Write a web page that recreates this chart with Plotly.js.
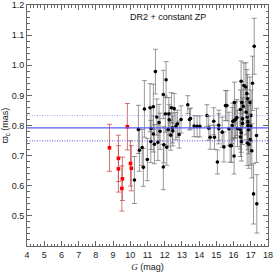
<!DOCTYPE html>
<html><head><meta charset="utf-8">
<script src="https://cdn.plot.ly/plotly-3.0.1.min.js"></script>
<style>html,body{margin:0;padding:0;background:#fff}#c{width:274px;height:274px}</style>
</head><body><div id="c"></div>
<script>
// Red (bright) stars
const redG   = [8.79, 9.31, 9.31, 9.54, 9.51, 9.83, 10.01, 10.06];
const redPlx = [0.726, 0.691, 0.656, 0.623, 0.591, 0.796, 0.674, 0.658];
const redErr = [0.078, 0.077, 0.077, 0.072, 0.075, 0.077, 0.075, 0.075];

// Black stars
const blkG = [10.24,10.47,10.53,10.69,10.76,10.82,10.99,11.15,11.21,11.19,11.34,11.34,11.40,11.46,11.54,11.60,11.67,11.73,11.92,11.92,11.95,12.04,12.08,12.12,12.20,12.24,12.26,12.35,12.39,12.45,12.47,12.55,12.65,12.74,12.84,12.95,13.34,13.44,13.50,13.71,13.88,14.04,14.45,14.56,14.64,14.85,14.89,15.06,15.14,15.14,15.34,15.44,15.53,15.61,15.73,15.80,15.88,15.92,15.96,16.03,16.05,16.05,16.11,16.19,16.23,16.38,16.40,16.40,16.44,16.44,16.46,16.48,16.52,16.52,16.56,16.60,16.71,16.73,16.77,16.79,16.79,16.81,16.83,16.83,16.87,16.89,16.95,17.00,17.02,16.97,17.06,17.10,17.16,17.20,17.33,17.35];
const blkPlx = [0.619,0.787,0.718,0.727,0.661,0.855,0.687,0.859,0.790,0.747,0.862,0.772,0.738,0.979,0.828,0.744,0.810,0.781,0.903,0.662,0.736,0.838,0.952,0.728,0.787,0.838,0.819,0.768,0.859,0.792,0.782,0.856,0.798,0.806,0.770,0.820,0.869,0.820,0.823,0.798,0.797,0.797,0.833,0.791,0.761,0.814,0.761,0.679,0.801,0.789,0.778,0.729,0.866,0.866,0.789,0.733,0.733,0.800,0.814,0.699,0.817,0.876,0.820,0.826,0.790,0.787,0.762,0.853,0.776,0.947,0.747,0.876,0.822,0.807,0.864,0.933,0.928,0.844,0.906,0.828,0.742,0.889,0.812,0.800,0.786,0.738,0.876,0.798,0.833,0.753,0.716,0.940,0.573,1.063,0.767,0.540];
const blkErr = [0.078,0.080,0.070,0.060,0.063,0.094,0.070,0.080,0.070,0.070,0.075,0.060,0.065,0.074,0.060,0.060,0.060,0.060,0.080,0.075,0.060,0.060,0.060,0.060,0.055,0.055,0.050,0.050,0.050,0.050,0.050,0.050,0.045,0.045,0.045,0.045,0.030,0.035,0.035,0.035,0.035,0.035,0.036,0.040,0.040,0.045,0.040,0.040,0.050,0.050,0.050,0.050,0.050,0.050,0.055,0.055,0.055,0.060,0.060,0.060,0.060,0.068,0.060,0.060,0.060,0.065,0.065,0.065,0.065,0.067,0.065,0.070,0.070,0.070,0.070,0.075,0.080,0.075,0.080,0.075,0.075,0.080,0.080,0.080,0.080,0.080,0.085,0.085,0.085,0.085,0.090,0.090,0.100,0.093,0.090,0.097];

// Reference levels
const zpMean = 0.792;
const zpUpper = 0.833;
const zpLower = 0.749;
const xRange = [4, 18];
const yRange = [0.4, 1.2];
const xTicks = [4,5,6,7,8,9,10,11,12,13,14,15,16,17,18];
const yTicks = [0.5,0.6,0.7,0.8,0.9,1.0,1.1,1.2];
const yTickText = ['0.5','0.6','0.7','0.8','0.9','1.0','1.1','1.2'];

const font = 'Liberation Sans, Arial, sans-serif';

const traces = [
  {x: blkG, y: blkPlx, type: 'scatter', mode: 'markers',
   marker: {color: '#000', size: 3.6, symbol: 'circle'},
   error_y: {type: 'data', array: blkErr, visible: true, color: 'rgba(110,110,110,0.7)', thickness: 1, width: 2.5},
   hoverinfo: 'skip'},
  {x: redG, y: redPlx, type: 'scatter', mode: 'markers',
   marker: {color: '#ff0000', size: 3.6, symbol: 'square'},
   error_y: {type: 'data', array: redErr, visible: true, color: 'rgba(200,80,80,0.8)', thickness: 1, width: 2.5},
   hoverinfo: 'skip'}
];

const axisCommon = {
  showgrid: false, zeroline: false, showline: true, linecolor: '#666', linewidth: 1,
  mirror: 'allticks', ticks: 'inside', ticklen: 5, tickcolor: '#666', tickwidth: 1,
  tickfont: {family: font, size: 9, color: '#222'}
};

const layout = {
  width: 274, height: 274,
  margin: {l: 27, r: 6, t: 5, b: 28},
  paper_bgcolor: '#fff', plot_bgcolor: '#fff',
  showlegend: false,
  xaxis: Object.assign({}, axisCommon, {
    range: xRange, tickmode: 'array', tickvals: xTicks,
    minor: {dtick: 0.2, tick0: 4, ticks: 'inside', ticklen: 2.5, tickcolor: '#666'},
    title: {text: '<i><span style="font-family:Liberation Serif">G</span></i> (mag)', font: {family: font, size: 9, color: '#222'}, standoff: 4}
  }),
  yaxis: Object.assign({}, axisCommon, {
    range: yRange, tickmode: 'array', tickvals: yTicks, ticktext: yTickText,
    minor: {dtick: 0.02, tick0: 0.4, ticks: 'inside', ticklen: 2.5, tickcolor: '#666'},
    title: {text: 'ϖ<sub>c</sub> (mas)', font: {family: font, size: 9, color: '#222'}, standoff: 2}
  }),
  shapes: [
    {type: 'line', xref: 'paper', x0: 0, x1: 1, yref: 'y', y0: zpMean, y1: zpMean, line: {color: '#5a5aff', width: 1.2}},
    {type: 'line', xref: 'paper', x0: 0, x1: 1, yref: 'y', y0: zpUpper, y1: zpUpper, line: {color: '#a8a8ff', width: 1, dash: '1px,1.5px'}},
    {type: 'line', xref: 'paper', x0: 0, x1: 1, yref: 'y', y0: zpLower, y1: zpLower, line: {color: '#5050e0', width: 1, dash: '1px,1.5px'}}
  ],
  annotations: [
    {text: 'DR2 + constant ZP', xref: 'paper', yref: 'paper', x: 0.585, y: 0.95, xanchor: 'center', yanchor: 'middle', showarrow: false, font: {family: font, size: 9, color: '#111'}}
  ]
};

Plotly.newPlot('c', traces, layout, {displayModeBar: false, staticPlot: true});
</script></body></html>
